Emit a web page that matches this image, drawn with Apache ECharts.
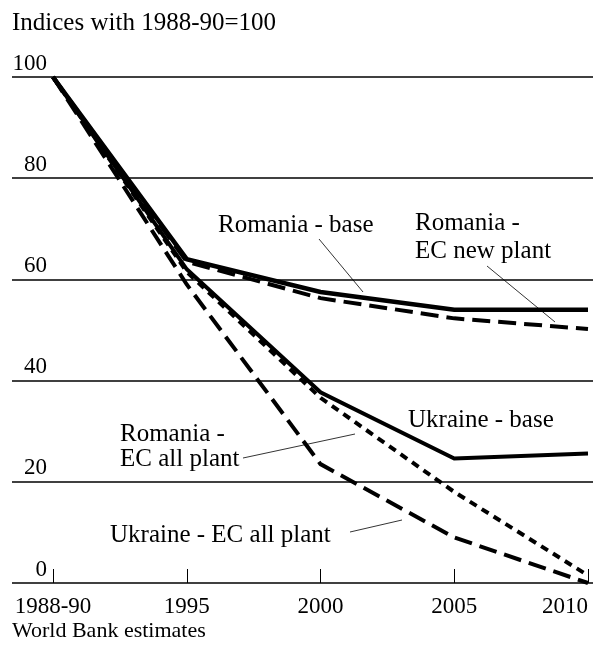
<!DOCTYPE html>
<html>
<head>
<meta charset="utf-8">
<script src="https://cdn.jsdelivr.net/npm/echarts@6/dist/echarts.min.js"></script>
<style>
html,body{margin:0;padding:0;background:#fff;}
#c{width:593px;height:660px;}
</style>
</head>
<body>
<div id="c"></div>
<script>
const categories = ['1988-90', '1995', '2000', '2005', '2010'];
const romaniaBase = [100, 64, 57.5, 54, 54];
const romaniaNewPlant = [100, 63.5, 56.3, 52.3, 50.2];
const ukraineBase = [100, 62, 37.7, 24.6, 25.6];
const romaniaAllPlant = [100, 61.5, 36.6, 18, 1.5];
const ukraineAllPlant = [100, 59, 23.5, 9, 0];
const yTicks = [0, 20, 40, 60, 80, 100];

const FONT = '"Liberation Serif", "Times New Roman", serif';
const chart = echarts.init(document.getElementById('c'), null, {renderer: 'canvas'});

function txt(text, x, y, size, lh) {
  return {type: 'text', z: 100, style: {text: text, x: x, y: y, fill: '#000',
    font: size + 'px ' + FONT, verticalAlign: 'middle', align: 'left', lineHeight: lh || size}};
}
function lead(x1, y1, x2, y2) {
  return {type: 'line', z: 100, shape: {x1: x1, y1: y1, x2: x2, y2: y2},
    style: {stroke: '#000', lineWidth: 0.8}};
}

function series(name, data, type, width) {
  return {
    name: name, type: 'line', data: data, xAxisIndex: 1, yAxisIndex: 1,
    symbol: 'none', smooth: false, animation: false,
    lineStyle: {color: '#000', width: width || 4, type: type, cap: 'butt', join: 'miter'}
  };
}

chart.setOption({
  animation: false,
  backgroundColor: '#fff',
  grid: [
    {left: 12, right: 0, top: 77, bottom: 77},
    {left: 53, right: 5, top: 77, bottom: 77}
  ],
  xAxis: [
    {type: 'value', gridIndex: 0, min: 0, max: 1, show: false},
    {type: 'category', gridIndex: 1, data: categories, boundaryGap: false,
     axisLine: {show: false},
     axisTick: {show: true, inside: true, length: 14, lineStyle: {color: '#000', width: 1}},
     axisLabel: {color: '#000', fontFamily: FONT, fontSize: 23, margin: 12, alignMaxLabel: 'right'},
     splitLine: {show: false}}
  ],
  yAxis: [
    {type: 'value', gridIndex: 0, min: 0, max: 100, interval: 20,
     axisLine: {show: false}, axisTick: {show: false},
     axisLabel: {inside: true, margin: 35, align: 'right', verticalAlign: 'bottom',
       color: '#000', fontFamily: FONT, fontSize: 23, padding: [0, 0, 2, 0],
       formatter: function (v) { return yTicks.indexOf(v) >= 0 ? String(v) : ''; }},
     splitLine: {show: true, lineStyle: {color: '#000', width: 1.5}}},
    {type: 'value', gridIndex: 1, min: 0, max: 100, interval: 20, show: false}
  ],
  series: [
    series('Romania - base', romaniaBase, 'solid', 4.5),
    series('Romania - EC new plant', romaniaNewPlant, [18, 8], 4),
    series('Ukraine - base', ukraineBase, 'solid', 4),
    series('Romania - EC all plant', romaniaAllPlant, [8, 6], 4),
    series('Ukraine - EC all plant', ukraineAllPlant, [18, 8], 4)
  ],
  graphic: [
    txt('Indices with 1988-90=100', 12, 23, 25),
    txt('World Bank estimates', 12, 631, 22),
    txt('Romania - base', 218, 225, 25),
    lead(319, 239, 363, 292),
    txt('Romania -\nEC new plant', 415, 237, 25, 28),
    lead(487, 266, 555, 322),
    txt('Ukraine - base', 408, 420, 25),
    txt('Romania -\nEC all plant', 120, 447, 25, 25),
    lead(243, 458, 355, 434),
    txt('Ukraine - EC all plant', 110, 535, 25),
    lead(350, 532, 402, 520)
  ]
});
</script>
</body>
</html>
